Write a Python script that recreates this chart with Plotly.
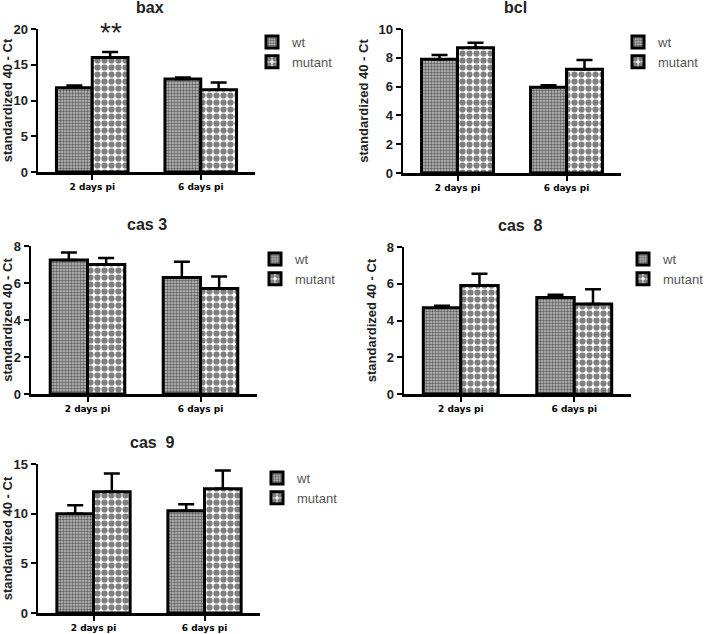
import plotly.graph_objects as go

categories = ["2 days pi", "6 days pi"]
series_names = ["wt", "mutant"]

titles = ["bax", "bcl", "cas 3", "cas  8", "cas  9"]

bax_wt = [11.8, 13.0]
bax_wt_err = [12.1, 13.2]
bax_mut = [16.0, 11.5]
bax_mut_err = [16.8, 12.5]

bcl_wt = [7.9, 5.95]
bcl_wt_err = [8.2, 6.1]
bcl_mut = [8.7, 7.2]
bcl_mut_err = [9.05, 7.85]

cas3_wt = [7.25, 6.3]
cas3_wt_err = [7.65, 7.15]
cas3_mut = [7.0, 5.7]
cas3_mut_err = [7.35, 6.35]

cas8_wt = [4.7, 5.25]
cas8_wt_err = [4.8, 5.4]
cas8_mut = [5.9, 4.9]
cas8_mut_err = [6.55, 5.7]

cas9_wt = [10.0, 10.3]
cas9_wt_err = [10.85, 10.95]
cas9_mut = [12.2, 12.5]
cas9_mut_err = [14.05, 14.35]

y_max = [20, 10, 8, 8, 15]
y_dtick = [5, 2, 2, 2, 5]
significance = "**"

W, H = 708, 634
# pixel boxes: (left, right, top, bottom)
boxes = [
    (38, 255, 29, 172),
    (403, 621, 29, 173),
    (31, 257, 246, 394),
    (404, 631, 247, 394),
    (38, 260, 464, 613),
]
legend_pos = [(252, 27), (618, 27), (255, 244), (623, 244), (257, 463)]

data = [
    (bax_wt, bax_wt_err, bax_mut, bax_mut_err),
    (bcl_wt, bcl_wt_err, bcl_mut, bcl_mut_err),
    (cas3_wt, cas3_wt_err, cas3_mut, cas3_mut_err),
    (cas8_wt, cas8_wt_err, cas8_mut, cas8_mut_err),
    (cas9_wt, cas9_wt_err, cas9_mut, cas9_mut_err),
]

patterns = [
    dict(shape=".", fgcolor="black", bgcolor="#c0c0c0", size=3, solidity=0.5),
    dict(shape=".", fgcolor="black", bgcolor="white", size=7, solidity=0.62),
]

fig = go.Figure()
layout = dict(
    width=W, height=H, autosize=False,
    margin=dict(l=0, r=0, t=0, b=0, autoexpand=False),
    plot_bgcolor="white", paper_bgcolor="white",
    barmode="group", bargap=0.34, bargroupgap=0,
    font=dict(family="Liberation Sans, Arial, sans-serif", color="black"),
    annotations=[],
)

for i, (wt, wte, mu, mue) in enumerate(data):
    n = i + 1
    xa = "x" if n == 1 else f"x{n}"
    ya = "y" if n == 1 else f"y{n}"
    lg = "legend" if n == 1 else f"legend{n}"
    for j, (vals, tops) in enumerate([(wt, wte), (mu, mue)]):
        fig.add_trace(go.Bar(
            x=categories, y=vals, name=series_names[j],
            xaxis=xa, yaxis=ya, legend=lg,
            marker=dict(color="white", pattern=patterns[j],
                        line=dict(color="black", width=3)),
            error_y=dict(type="data", symmetric=False,
                         array=[t - v for t, v in zip(tops, vals)],
                         arrayminus=[0, 0], color="black",
                         thickness=2.5, width=8),
        ))
    l, r, t, b = boxes[i]
    xkey = "xaxis" if n == 1 else f"xaxis{n}"
    ykey = "yaxis" if n == 1 else f"yaxis{n}"
    layout[xkey] = dict(
        domain=[l / W, r / W], anchor=ya, range=[-0.5, 1.5],
        showline=True, linecolor="black", linewidth=2.5,
        ticks="outside", ticklen=5, tickwidth=2, tickcolor="black",
        tickfont=dict(family="DejaVu Sans", size=9, color="black", weight="bold"),
        showgrid=False, zeroline=False, fixedrange=True, automargin=False,
    )
    layout[ykey] = dict(
        domain=[1 - b / H, 1 - t / H], anchor=xa, range=[0, y_max[i]],
        dtick=y_dtick[i], showline=True, linecolor="black", linewidth=2.5,
        ticks="outside", ticklen=5, tickwidth=2, tickcolor="black",
        tickfont=dict(size=13, color="#222", weight="bold"),
        showgrid=False, zeroline=False, automargin=False,
        title=dict(text="standardized 40 - Ct",
                   font=dict(size=13, color="#222", weight="bold"), standoff=7),
    )
    lx, ly = legend_pos[i]
    layout[lg] = dict(
        x=lx / W, y=1 - ly / H, xanchor="left", yanchor="top",
        xref="paper", yref="paper",
        font=dict(size=13, color="#555"), bgcolor="rgba(0,0,0,0)",
        tracegroupgap=0, itemclick=False,
    )
    layout["annotations"].append(dict(
        text=titles[i], xref="paper", yref="paper",
        x=((l + r) / 2 + 3) / W, y=1 - (t - 22) / H, xanchor="center", yanchor="middle",
        showarrow=False, font=dict(size=16, color="#222", weight="bold"),
    ))

layout["annotations"].append(dict(
    text=significance, xref="x", yref="y", x=0.17, y=bax_mut_err[0] + 0.3,
    xanchor="center", yanchor="bottom", showarrow=False,
    font=dict(size=28, color="#222"),
))

fig.update_layout(**layout)
fig.write_html(
    "out.html",
    config={"displayModeBar": False, "staticPlot": True},
    post_script="document.body.style.margin='0px';document.body.style.overflow='hidden';",
)
